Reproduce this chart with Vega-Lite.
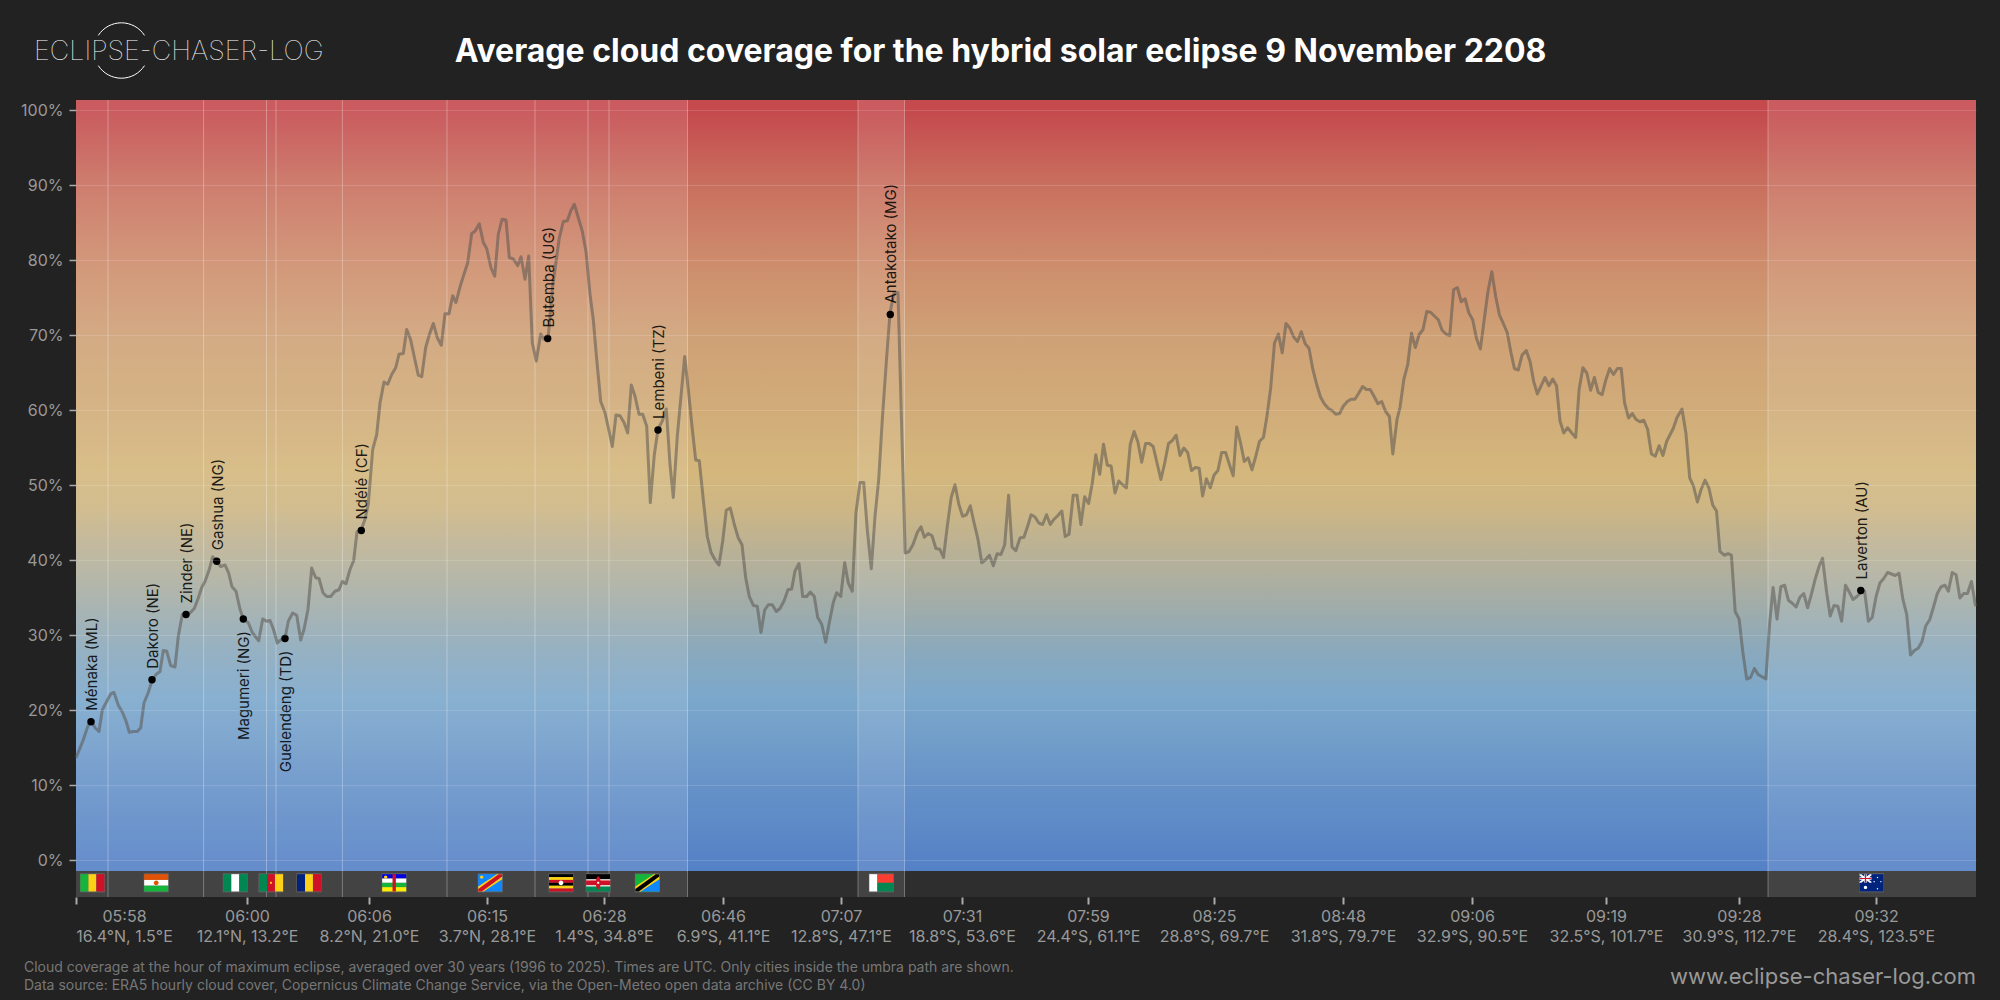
{
  "$schema": "https://vega.github.io/schema/vega-lite/v6.json",
  "width": 1900,
  "height": 797,
  "padding": {"left": 20, "top": 20, "right": 24, "bottom": 10},
  "background": "#222222",
  "config": {"view": {"stroke": null}},
  "resolve": {"axis": {"x": "independent", "y": "independent"}},
  "datasets": {
    "cover": [
      {"dist":0,"cc":13.7},{"dist":4,"cc":15},{"dist":7.3,"cc":16.1},{"dist":11.3,"cc":17.7},{"dist":14.7,"cc":18.8},{"dist":19,"cc":17.7},{"dist":23,"cc":17.2},{"dist":26.3,"cc":20.1},{"dist":30.7,"cc":21.2},{"dist":34.7,"cc":22.2},
      {"dist":38,"cc":22.4},{"dist":42.3,"cc":20.7},{"dist":46.3,"cc":19.8},{"dist":50,"cc":18.6},{"dist":53.3,"cc":17.1},{"dist":57.3,"cc":17.2},{"dist":61.3,"cc":17.2},{"dist":64.7,"cc":17.7},{"dist":68,"cc":21},{"dist":72.3,"cc":22.4},
      {"dist":76,"cc":24},{"dist":80,"cc":24.8},{"dist":84,"cc":25.2},{"dist":87.3,"cc":28},{"dist":90.7,"cc":27.9},{"dist":94.7,"cc":26},{"dist":99,"cc":25.8},{"dist":102.3,"cc":29.9},{"dist":106.3,"cc":32.8},{"dist":110.7,"cc":32.8},
      {"dist":114,"cc":33},{"dist":118.3,"cc":33.6},{"dist":122.3,"cc":35},{"dist":125.7,"cc":36.4},{"dist":129,"cc":37.2},{"dist":133.3,"cc":38.8},{"dist":136.7,"cc":40.5},{"dist":140.7,"cc":39.9},{"dist":144.7,"cc":39.2},{"dist":149,"cc":39.4},
      {"dist":152.7,"cc":38.3},{"dist":156,"cc":36.5},{"dist":160,"cc":35.9},{"dist":164,"cc":33.5},{"dist":167.3,"cc":32.2},{"dist":172.3,"cc":31.7},{"dist":176.3,"cc":30.4},{"dist":179.7,"cc":29.8},{"dist":182.7,"cc":29.3},{"dist":186.7,"cc":32.2},
      {"dist":190.7,"cc":31.9},{"dist":194,"cc":32},{"dist":197.3,"cc":30.9},{"dist":201.3,"cc":29},{"dist":205.7,"cc":29.5},{"dist":209,"cc":29.6},{"dist":212.3,"cc":31.9},{"dist":216.7,"cc":33},{"dist":220.7,"cc":32.7},{"dist":224.7,"cc":29.4},
      {"dist":228,"cc":30.8},{"dist":232,"cc":33.5},{"dist":235.7,"cc":39},{"dist":239.7,"cc":37.7},{"dist":243,"cc":37.6},{"dist":247,"cc":35.7},{"dist":250.7,"cc":35.2},{"dist":254.7,"cc":35.2},{"dist":259,"cc":35.9},{"dist":263,"cc":36.1},
      {"dist":266.3,"cc":37.2},{"dist":270,"cc":36.9},{"dist":274,"cc":38.8},{"dist":277.7,"cc":40},{"dist":281,"cc":43.8},{"dist":285,"cc":44},{"dist":289,"cc":45.5},{"dist":292.3,"cc":47.5},{"dist":296.7,"cc":54.8},{"dist":300.7,"cc":56.8},
      {"dist":304,"cc":61},{"dist":308,"cc":63.8},{"dist":311.7,"cc":63.5},{"dist":315.7,"cc":64.8},{"dist":319.7,"cc":65.7},{"dist":323,"cc":67.5},{"dist":327.3,"cc":67.6},{"dist":330.7,"cc":70.8},{"dist":334.5,"cc":69.5},{"dist":338.5,"cc":67},
      {"dist":342.3,"cc":64.7},{"dist":345.7,"cc":64.5},{"dist":349.7,"cc":68.4},{"dist":353.3,"cc":70.1},{"dist":357.3,"cc":71.6},{"dist":361.3,"cc":69.7},{"dist":365.3,"cc":68.7},{"dist":369,"cc":72.9},{"dist":373,"cc":72.9},{"dist":376.7,"cc":75.3},
      {"dist":380,"cc":74.4},{"dist":384.7,"cc":76.8},{"dist":391.7,"cc":79.7},{"dist":395.7,"cc":83.6},{"dist":399,"cc":83.9},{"dist":403.3,"cc":84.9},{"dist":407.3,"cc":82.4},{"dist":410.7,"cc":81.6},{"dist":415,"cc":79},{"dist":418.7,"cc":77.9},
      {"dist":422.3,"cc":83.5},{"dist":426,"cc":85.5},{"dist":430,"cc":85.4},{"dist":433.3,"cc":80.4},{"dist":437.3,"cc":80.2},{"dist":441.7,"cc":79.3},{"dist":445,"cc":80.5},{"dist":449,"cc":77.5},{"dist":452.7,"cc":80.6},{"dist":456.3,"cc":69},
      {"dist":460.3,"cc":66.6},{"dist":464.7,"cc":70.2},{"dist":468,"cc":69.5},{"dist":472.3,"cc":69.9},{"dist":476.7,"cc":76.6},{"dist":483.3,"cc":83},{"dist":487.3,"cc":85.2},{"dist":491.3,"cc":85.3},{"dist":494.7,"cc":86.6},{"dist":498.3,"cc":87.5},
      {"dist":502.3,"cc":85.7},{"dist":506.3,"cc":83.9},{"dist":510,"cc":81.2},{"dist":514,"cc":75.5},{"dist":517.3,"cc":72.1},{"dist":520.7,"cc":66.8},{"dist":524.7,"cc":61.2},{"dist":529,"cc":59.7},{"dist":532.7,"cc":57.5},{"dist":536.3,"cc":55.2},
      {"dist":540,"cc":59.4},{"dist":544,"cc":59.3},{"dist":548,"cc":58.4},{"dist":551.7,"cc":57},{"dist":555.3,"cc":63.4},{"dist":559,"cc":61.9},{"dist":563,"cc":59.5},{"dist":566.7,"cc":59.5},{"dist":570.7,"cc":57.9},{"dist":574.3,"cc":47.7},
      {"dist":578.3,"cc":54.1},{"dist":582,"cc":57.5},{"dist":586.3,"cc":58.6},{"dist":590.3,"cc":60.2},{"dist":594,"cc":52.8},{"dist":597.3,"cc":48.4},{"dist":601.3,"cc":56.6},{"dist":605,"cc":61.9},{"dist":608.7,"cc":67.2},{"dist":612.3,"cc":62.8},
      {"dist":616,"cc":57.9},{"dist":619.7,"cc":53.4},{"dist":623.3,"cc":53.3},{"dist":627.3,"cc":48.1},{"dist":631.3,"cc":43.2},{"dist":635,"cc":41.1},{"dist":639,"cc":40.1},{"dist":643,"cc":39.4},{"dist":646.7,"cc":42.6},{"dist":650.3,"cc":46.7},
      {"dist":654.3,"cc":47},{"dist":658.3,"cc":44.8},{"dist":662.3,"cc":43},{"dist":666,"cc":42.1},{"dist":669.7,"cc":37.7},{"dist":673.3,"cc":35.2},{"dist":677.3,"cc":34},{"dist":681.3,"cc":33.9},{"dist":685,"cc":30.4},{"dist":688.7,"cc":33.4},
      {"dist":692.3,"cc":34.1},{"dist":696.3,"cc":34.1},{"dist":700.3,"cc":33.2},{"dist":704,"cc":33.6},{"dist":708,"cc":34.6},{"dist":712,"cc":36.1},{"dist":715.7,"cc":36.2},{"dist":719,"cc":38.6},{"dist":723,"cc":39.6},{"dist":726.7,"cc":35.2},
      {"dist":730.7,"cc":35.2},{"dist":734.3,"cc":35.8},{"dist":738.3,"cc":35.2},{"dist":741.7,"cc":32.4},{"dist":745.7,"cc":31.5},{"dist":749.7,"cc":29.1},{"dist":753.3,"cc":31.7},{"dist":757.3,"cc":34.4},{"dist":760.7,"cc":35.7},{"dist":764.7,"cc":35.2},
      {"dist":768.7,"cc":39.7},{"dist":772.3,"cc":37},{"dist":776.3,"cc":35.9},{"dist":780,"cc":46.4},{"dist":784,"cc":50.4},{"dist":787.7,"cc":50.4},{"dist":791.3,"cc":44.1},{"dist":795.3,"cc":38.9},{"dist":799,"cc":45.9},{"dist":802.7,"cc":50.8},
      {"dist":806.3,"cc":58.8},{"dist":810.7,"cc":67.2},{"dist":814,"cc":73},{"dist":818,"cc":75.7},{"dist":822,"cc":75.7},{"dist":825,"cc":61},{"dist":829.2,"cc":41},{"dist":833,"cc":41.2},{"dist":836.9,"cc":42.1},{"dist":841.5,"cc":43.8},
      {"dist":845,"cc":44.5},{"dist":848.4,"cc":43.1},{"dist":852.2,"cc":43.6},{"dist":856,"cc":43.3},{"dist":859.9,"cc":41.6},{"dist":863.7,"cc":41.5},{"dist":867.5,"cc":40.4},{"dist":871.3,"cc":44.6},{"dist":875.2,"cc":48.4},{"dist":879,"cc":50.1},
      {"dist":882.8,"cc":47.5},{"dist":886.6,"cc":45.9},{"dist":890.5,"cc":46.1},{"dist":894.3,"cc":47.3},{"dist":898.1,"cc":45},{"dist":902,"cc":42.8},{"dist":905.8,"cc":39.7},{"dist":909.6,"cc":40.1},{"dist":913.4,"cc":40.7},{"dist":917.3,"cc":39.3},
      {"dist":921.1,"cc":40.9},{"dist":924.9,"cc":40.8},{"dist":928.7,"cc":42.1},{"dist":932.6,"cc":48.7},{"dist":936,"cc":41.8},{"dist":939.8,"cc":41.3},{"dist":944,"cc":43},{"dist":947.9,"cc":43.1},{"dist":951.7,"cc":44.6},{"dist":955.1,"cc":46.1},
      {"dist":959,"cc":45.8},{"dist":962.8,"cc":45},{"dist":966.6,"cc":44.8},{"dist":970.5,"cc":46.1},{"dist":974.3,"cc":44.8},{"dist":978.1,"cc":45.5},{"dist":981.9,"cc":46},{"dist":985.8,"cc":46.6},{"dist":989.2,"cc":43.2},{"dist":993,"cc":43.5},
      {"dist":997.2,"cc":48.7},{"dist":1001,"cc":48.7},{"dist":1004.9,"cc":44.8},{"dist":1008.7,"cc":48.5},{"dist":1012.6,"cc":47.6},{"dist":1016.4,"cc":50.4},{"dist":1019.8,"cc":54.1},{"dist":1023.7,"cc":51.5},{"dist":1027.5,"cc":55.5},{"dist":1031.3,"cc":52.7},
      {"dist":1035.1,"cc":52.6},{"dist":1039,"cc":49},{"dist":1042.8,"cc":50.6},{"dist":1046.6,"cc":50.1},{"dist":1050.4,"cc":49.7},{"dist":1054.3,"cc":55.5},{"dist":1058.1,"cc":57.2},{"dist":1061.9,"cc":55.8},{"dist":1065.7,"cc":53.1},{"dist":1069.6,"cc":55.6},
      {"dist":1073.4,"cc":55.6},{"dist":1077.2,"cc":55.2},{"dist":1081,"cc":53},{"dist":1084.9,"cc":50.8},{"dist":1088.7,"cc":53},{"dist":1092.5,"cc":55.6},{"dist":1096.4,"cc":56},{"dist":1100.2,"cc":56.7},{"dist":1104,"cc":54},{"dist":1107.8,"cc":55},
      {"dist":1111.7,"cc":54.4},{"dist":1115.5,"cc":52},{"dist":1119.3,"cc":52.4},{"dist":1123.2,"cc":52.3},{"dist":1126.6,"cc":48.6},{"dist":1130.4,"cc":50.9},{"dist":1134.3,"cc":49.7},{"dist":1138.1,"cc":51.4},{"dist":1141.9,"cc":52},{"dist":1145.7,"cc":54.4},
      {"dist":1149.6,"cc":54.4},{"dist":1153.4,"cc":52.8},{"dist":1157.2,"cc":51.3},{"dist":1160.7,"cc":57.8},{"dist":1164.5,"cc":55.7},{"dist":1168.3,"cc":53.2},{"dist":1172.1,"cc":53.7},{"dist":1176,"cc":52.1},{"dist":1179.8,"cc":53.9},{"dist":1183.6,"cc":55.9},
      {"dist":1187.4,"cc":56.4},{"dist":1190.9,"cc":59.2},{"dist":1194.7,"cc":63},{"dist":1198.5,"cc":69},{"dist":1202.4,"cc":70.2},{"dist":1206.2,"cc":67.7},{"dist":1210,"cc":71.6},{"dist":1213.8,"cc":71},{"dist":1217.7,"cc":69.8},{"dist":1221.5,"cc":69.2},
      {"dist":1225.3,"cc":70.5},{"dist":1229.2,"cc":68.9},{"dist":1233,"cc":68.3},{"dist":1236.8,"cc":65.5},{"dist":1240.6,"cc":63.5},{"dist":1244.5,"cc":61.8},{"dist":1248.3,"cc":60.9},{"dist":1252.1,"cc":60.3},{"dist":1256,"cc":60},{"dist":1259.8,"cc":59.5},
      {"dist":1263.6,"cc":59.6},{"dist":1267.4,"cc":60.6},{"dist":1271.3,"cc":61.2},{"dist":1275.1,"cc":61.5},{"dist":1278.9,"cc":61.5},{"dist":1282.7,"cc":62.3},{"dist":1286.6,"cc":63.2},{"dist":1290.4,"cc":62.8},{"dist":1294.2,"cc":62.8},{"dist":1298,"cc":61.9},
      {"dist":1301.9,"cc":60.9},{"dist":1305.7,"cc":61.2},{"dist":1309.5,"cc":59.9},{"dist":1313.4,"cc":59.2},{"dist":1316.8,"cc":54.2},{"dist":1321,"cc":58.8},{"dist":1324,"cc":60.4},{"dist":1327.8,"cc":64.1},{"dist":1331.7,"cc":66.1},{"dist":1335.5,"cc":70.3},
      {"dist":1339.3,"cc":68.4},{"dist":1343.1,"cc":70.1},{"dist":1347,"cc":70.8},{"dist":1350.8,"cc":73.2},{"dist":1354.6,"cc":73.1},{"dist":1358.4,"cc":72.6},{"dist":1362.3,"cc":72.1},{"dist":1366.1,"cc":70.7},{"dist":1369.9,"cc":70.2},{"dist":1373.8,"cc":70},
      {"dist":1377.6,"cc":76.1},{"dist":1381.4,"cc":76.4},{"dist":1385.2,"cc":74.5},{"dist":1389.1,"cc":74.9},{"dist":1392.9,"cc":73},{"dist":1396.7,"cc":72.1},{"dist":1400.5,"cc":69.6},{"dist":1404.4,"cc":68.2},{"dist":1408.2,"cc":72.1},{"dist":1412,"cc":75.9},
      {"dist":1415.8,"cc":78.5},{"dist":1419.7,"cc":75.2},{"dist":1423.5,"cc":72.7},{"dist":1427.3,"cc":71.6},{"dist":1431.2,"cc":70.4},{"dist":1435,"cc":67.7},{"dist":1438.4,"cc":65.6},{"dist":1442.3,"cc":65.4},{"dist":1446.1,"cc":67.4},{"dist":1450.3,"cc":68},
      {"dist":1454.1,"cc":66.5},{"dist":1457.6,"cc":63.9},{"dist":1461.4,"cc":62.2},{"dist":1465.2,"cc":63.3},{"dist":1469,"cc":64.4},{"dist":1472.9,"cc":63.3},{"dist":1476.7,"cc":64.2},{"dist":1480.5,"cc":63.3},{"dist":1484,"cc":58.6},{"dist":1487.8,"cc":57},
      {"dist":1491.6,"cc":57.7},{"dist":1495.8,"cc":57},{"dist":1499.7,"cc":56.4},{"dist":1503.1,"cc":62.8},{"dist":1506.9,"cc":65.7},{"dist":1510.8,"cc":65},{"dist":1514.6,"cc":62.7},{"dist":1518.4,"cc":64.4},{"dist":1522.2,"cc":62.4},{"dist":1526.1,"cc":62.1},
      {"dist":1529.9,"cc":64.1},{"dist":1533.7,"cc":65.6},{"dist":1537.5,"cc":64.8},{"dist":1541.4,"cc":65.6},{"dist":1545.2,"cc":65.6},{"dist":1548.6,"cc":61},{"dist":1552.5,"cc":59},{"dist":1556.3,"cc":59.6},{"dist":1560.1,"cc":58.8},{"dist":1563.9,"cc":58.5},
      {"dist":1567.8,"cc":58.7},{"dist":1571.6,"cc":57.5},{"dist":1575.4,"cc":54.2},{"dist":1579.3,"cc":53.9},{"dist":1583.1,"cc":55.3},{"dist":1586.9,"cc":54},{"dist":1590.7,"cc":55.9},{"dist":1597.2,"cc":57.6},{"dist":1601.1,"cc":59.1},{"dist":1606,"cc":60.2},
      {"dist":1609.9,"cc":57},{"dist":1613.7,"cc":51},{"dist":1617.5,"cc":49.9},{"dist":1621.4,"cc":47.8},{"dist":1625.2,"cc":49.5},{"dist":1629,"cc":50.7},{"dist":1632.8,"cc":49.7},{"dist":1636.7,"cc":47.4},{"dist":1640.5,"cc":46.6},{"dist":1643.9,"cc":41.2},
      {"dist":1648.2,"cc":40.7},{"dist":1652,"cc":40.9},{"dist":1655.4,"cc":40.7},{"dist":1659.2,"cc":33.2},{"dist":1663.1,"cc":32.2},{"dist":1666.9,"cc":27.7},{"dist":1670.7,"cc":24.2},{"dist":1674.5,"cc":24.4},{"dist":1678.4,"cc":25.6},{"dist":1682.2,"cc":24.8},
      {"dist":1686,"cc":24.5},{"dist":1689.9,"cc":24.2},{"dist":1693.7,"cc":31.7},{"dist":1697.1,"cc":36.4},{"dist":1701,"cc":32.2},{"dist":1704.8,"cc":36.5},{"dist":1708.6,"cc":36.7},{"dist":1712.4,"cc":34.7},{"dist":1716.3,"cc":34.3},{"dist":1720.1,"cc":33.8},
      {"dist":1723.9,"cc":35.1},{"dist":1727.7,"cc":35.6},{"dist":1731.6,"cc":33.7},{"dist":1735.4,"cc":35.5},{"dist":1739.2,"cc":37.5},{"dist":1743,"cc":39.2},{"dist":1746.5,"cc":40.3},{"dist":1750.7,"cc":35.7},{"dist":1754.2,"cc":32.6},{"dist":1758,"cc":34},
      {"dist":1761.8,"cc":33.9},{"dist":1765.6,"cc":31.9},{"dist":1769.5,"cc":36.7},{"dist":1773.3,"cc":35.8},{"dist":1777.1,"cc":34.8},{"dist":1780.9,"cc":35.2},{"dist":1784.8,"cc":35.7},{"dist":1788.6,"cc":35.9},{"dist":1792.4,"cc":31.9},{"dist":1796.2,"cc":32.4},
      {"dist":1800.1,"cc":35.2},{"dist":1803.9,"cc":37},{"dist":1807.7,"cc":37.6},{"dist":1811.6,"cc":38.4},{"dist":1815.4,"cc":38.2},{"dist":1819.2,"cc":38},{"dist":1823,"cc":38.3},{"dist":1826.9,"cc":34.8},{"dist":1830.7,"cc":32.8},{"dist":1834.5,"cc":27.4},
      {"dist":1838.3,"cc":28},{"dist":1842.2,"cc":28.3},{"dist":1846,"cc":29.2},{"dist":1849.8,"cc":31.3},{"dist":1853.7,"cc":32.1},{"dist":1857.5,"cc":33.8},{"dist":1861.3,"cc":35.6},{"dist":1865.1,"cc":36.5},{"dist":1869,"cc":36.7},{"dist":1872.4,"cc":35.9},
      {"dist":1876.2,"cc":38.4},{"dist":1880.1,"cc":38.1},{"dist":1883.9,"cc":35},{"dist":1887.7,"cc":35.6},{"dist":1891.5,"cc":35.6},{"dist":1895.4,"cc":37.2},{"dist":1899.6,"cc":33.9}
    ],
    "cities": [
      {"city":"Ménaka (ML)","dist":15,"cc":18.5,"side":"above"},
      {"city":"Dakoro (NE)","dist":76,"cc":24.1,"side":"above"},
      {"city":"Zinder (NE)","dist":110,"cc":32.8,"side":"above"},
      {"city":"Gashua (NG)","dist":140.7,"cc":39.9,"side":"above"},
      {"city":"Magumeri (NG)","dist":167.3,"cc":32.2,"side":"below"},
      {"city":"Guelendeng (TD)","dist":209,"cc":29.6,"side":"below"},
      {"city":"Ndélé (CF)","dist":285.3,"cc":44,"side":"above"},
      {"city":"Butemba (UG)","dist":471.7,"cc":69.6,"side":"above"},
      {"city":"Lembeni (TZ)","dist":582,"cc":57.4,"side":"above"},
      {"city":"Antakotako (MG)","dist":814.3,"cc":72.8,"side":"above"},
      {"city":"Laverton (AU)","dist":1784.8,"cc":36,"side":"above"}
    ],
    "land": [
      {"start":0,"end":611.5},
      {"start":782,"end":828.5},
      {"start":1692,"end":1900}
    ],
    "borders": [
      {"dist":32},{"dist":127.6},{"dist":190.5},{"dist":200},{"dist":266.4},{"dist":371},{"dist":459},{"dist":512},{"dist":533},{"dist":611.5},{"dist":782},{"dist":828.5},{"dist":1692}
    ],
    "flags": [
      {"flag":"ML","dist":16.4,"cc":-2.98,"part":"frame","tint":"frame"},{"flag":"ML","dist":16.4,"cc":-2.98,"part":"v1","tint":"green"},{"flag":"ML","dist":16.4,"cc":-2.98,"part":"v2","tint":"yellow"},{"flag":"ML","dist":16.4,"cc":-2.98,"part":"v3","tint":"red"},
      {"flag":"NE","dist":80.2,"cc":-2.98,"part":"frame","tint":"frame"},{"flag":"NE","dist":80.2,"cc":-2.98,"part":"h1","tint":"orange"},{"flag":"NE","dist":80.2,"cc":-2.98,"part":"h2","tint":"white"},{"flag":"NE","dist":80.2,"cc":-2.98,"part":"h3","tint":"green"},{"flag":"NE","dist":80.2,"cc":-2.98,"part":"dot","tint":"orange"},
      {"flag":"NG","dist":159.3,"cc":-2.98,"part":"frame","tint":"frame"},{"flag":"NG","dist":159.3,"cc":-2.98,"part":"v1","tint":"darkgreen"},{"flag":"NG","dist":159.3,"cc":-2.98,"part":"v2","tint":"white"},{"flag":"NG","dist":159.3,"cc":-2.98,"part":"v3","tint":"darkgreen"},
      {"flag":"CM","dist":195,"cc":-2.98,"part":"frame","tint":"frame"},{"flag":"CM","dist":195,"cc":-2.98,"part":"v1","tint":"darkgreen"},{"flag":"CM","dist":195,"cc":-2.98,"part":"v2","tint":"red"},{"flag":"CM","dist":195,"cc":-2.98,"part":"v3","tint":"yellow"},{"flag":"CM","dist":195,"cc":-2.98,"part":"pip","tint":"yellow"},
      {"flag":"TD","dist":233,"cc":-2.98,"part":"frame","tint":"frame"},{"flag":"TD","dist":233,"cc":-2.98,"part":"v1","tint":"navy"},{"flag":"TD","dist":233,"cc":-2.98,"part":"v2","tint":"yellow"},{"flag":"TD","dist":233,"cc":-2.98,"part":"v3","tint":"red"},
      {"flag":"CF","dist":318.2,"cc":-2.98,"part":"frame","tint":"frame"},{"flag":"CF","dist":318.2,"cc":-2.98,"part":"q1","tint":"blue"},{"flag":"CF","dist":318.2,"cc":-2.98,"part":"q2","tint":"white"},{"flag":"CF","dist":318.2,"cc":-2.98,"part":"q3","tint":"green"},{"flag":"CF","dist":318.2,"cc":-2.98,"part":"q4","tint":"lemon"},{"flag":"CF","dist":318.2,"cc":-2.98,"part":"vbar","tint":"red"},{"flag":"CF","dist":318.2,"cc":-2.98,"part":"corner","tint":"yellow"},
      {"flag":"CD","dist":414.2,"cc":-2.98,"part":"frame","tint":"frame"},{"flag":"CD","dist":414.2,"cc":-2.98,"part":"full","tint":"sky"},{"flag":"CD","dist":414.2,"cc":-2.98,"part":"diagwide","tint":"yellow"},{"flag":"CD","dist":414.2,"cc":-2.98,"part":"diagthin","tint":"red"},{"flag":"CD","dist":414.2,"cc":-2.98,"part":"corner","tint":"yellow"},
      {"flag":"UG","dist":485,"cc":-2.98,"part":"frame","tint":"frame"},{"flag":"UG","dist":485,"cc":-2.98,"part":"s1","tint":"black"},{"flag":"UG","dist":485,"cc":-2.98,"part":"s2","tint":"yellow"},{"flag":"UG","dist":485,"cc":-2.98,"part":"s3","tint":"red"},{"flag":"UG","dist":485,"cc":-2.98,"part":"s4","tint":"black"},{"flag":"UG","dist":485,"cc":-2.98,"part":"s5","tint":"yellow"},{"flag":"UG","dist":485,"cc":-2.98,"part":"s6","tint":"red"},{"flag":"UG","dist":485,"cc":-2.98,"part":"dot","tint":"white"},
      {"flag":"KE","dist":522.2,"cc":-2.98,"part":"frame","tint":"frame"},{"flag":"KE","dist":522.2,"cc":-2.98,"part":"h1","tint":"black"},{"flag":"KE","dist":522.2,"cc":-2.98,"part":"h2","tint":"red"},{"flag":"KE","dist":522.2,"cc":-2.98,"part":"h3","tint":"darkgreen"},{"flag":"KE","dist":522.2,"cc":-2.98,"part":"hl1","tint":"white"},{"flag":"KE","dist":522.2,"cc":-2.98,"part":"hl2","tint":"white"},{"flag":"KE","dist":522.2,"cc":-2.98,"part":"oval","tint":"red"},{"flag":"KE","dist":522.2,"cc":-2.98,"part":"pip","tint":"white"},
      {"flag":"TZ","dist":571.3,"cc":-2.98,"part":"frame","tint":"frame"},{"flag":"TZ","dist":571.3,"cc":-2.98,"part":"full","tint":"green"},{"flag":"TZ","dist":571.3,"cc":-2.98,"part":"tri","tint":"sky"},{"flag":"TZ","dist":571.3,"cc":-2.98,"part":"diagwide","tint":"yellow"},{"flag":"TZ","dist":571.3,"cc":-2.98,"part":"diagthin","tint":"black"},
      {"flag":"MG","dist":805.3,"cc":-2.98,"part":"frame","tint":"frame"},{"flag":"MG","dist":805.3,"cc":-2.98,"part":"v1","tint":"white"},{"flag":"MG","dist":805.3,"cc":-2.98,"part":"rt","tint":"coral"},{"flag":"MG","dist":805.3,"cc":-2.98,"part":"rb","tint":"darkgreen"},
      {"flag":"AU","dist":1795.5,"cc":-2.98,"part":"frame","tint":"frame"},{"flag":"AU","dist":1795.5,"cc":-2.98,"part":"full","tint":"navy"},{"flag":"AU","dist":1795.5,"cc":-2.98,"part":"cdiag","tint":"white"},{"flag":"AU","dist":1795.5,"cc":-2.98,"part":"crossw","tint":"white"},{"flag":"AU","dist":1795.5,"cc":-2.98,"part":"crossr","tint":"red"},{"flag":"AU","dist":1795.5,"cc":-2.98,"part":"southern","tint":"white"}
    ],
    "notes": [
      {"note":"Cloud coverage at the hour of maximum eclipse, averaged over 30 years (1996 to 2025). Times are UTC. Only cities inside the umbra path are shown.","dist":-52,"cc":-14.4},
      {"note":"Data source: ERA5 hourly cloud cover, Copernicus Climate Change Service, via the Open-Meteo open data archive (CC BY 4.0)","dist":-52,"cc":-16.8}
    ]
  },
  "data": {"name": "cover"},
  "layer": [
    {
      "data": {"values": [{"from": 101.4, "to": -1.4}]},
      "mark": {
        "type": "rect",
        "color": {
          "gradient": "linear", "x1": 0, "y1": 0, "x2": 0, "y2": 1,
          "stops": [
            {"offset": 0.015, "color": "#c44a4d"},
            {"offset": 0.112, "color": "#c9705f"},
            {"offset": 0.209, "color": "#cd8c6c"},
            {"offset": 0.306, "color": "#cfa176"},
            {"offset": 0.403, "color": "#d1ac79"},
            {"offset": 0.481, "color": "#d4b77c"},
            {"offset": 0.530, "color": "#cdb684"},
            {"offset": 0.578, "color": "#bcb294"},
            {"offset": 0.646, "color": "#a5ada6"},
            {"offset": 0.714, "color": "#8aa9bc"},
            {"offset": 0.773, "color": "#7ca8cb"},
            {"offset": 0.889, "color": "#6692c8"},
            {"offset": 1, "color": "#5480c6"}
          ]
        }
      },
      "encoding": {
        "y": {"field": "from", "type": "quantitative", "scale": {"domain": [-4.87, 101.4], "nice": false, "zero": false}, "axis": null},
        "y2": {"field": "to"}
      }
    },
    {
      "data": {"values": [{"from": -1.4, "to": -4.87}]},
      "mark": {"type": "rect", "color": "#2e2e2e"},
      "encoding": {
        "y": {"field": "from", "type": "quantitative", "scale": {"domain": [-4.87, 101.4], "nice": false, "zero": false}, "axis": null},
        "y2": {"field": "to"}
      }
    },
    {
      "data": {"name": "land"},
      "mark": {"type": "rect", "color": "#ffffff", "opacity": 0.1},
      "encoding": {
        "x": {"field": "start", "type": "quantitative", "scale": {"domain": [0, 1900], "nice": false, "zero": false}, "axis": null},
        "x2": {"field": "end"}
      }
    },
    {
      "data": {"name": "borders"},
      "mark": {"type": "rule", "color": "#ffffff", "opacity": 0.3, "strokeWidth": 1},
      "encoding": {
        "x": {"field": "dist", "type": "quantitative", "scale": {"domain": [0, 1900], "nice": false, "zero": false}, "axis": null}
      }
    },
    {
      "mark": {"type": "line", "color": "#5a5650", "opacity": 0.55, "strokeWidth": 3, "strokeJoin": "round"},
      "encoding": {
        "x": {
          "field": "dist", "type": "quantitative",
          "scale": {"domain": [0, 1900], "nice": false, "zero": false},
          "axis": {
            "title": null, "grid": false, "domain": false,
            "values": [0,171,293,411,528,647,765,886,1012,1138,1267,1396,1530,1663,1800],
            "tickColor": "#aaaaaa", "tickSize": 7, "tickWidth": 2,
            "labelColor": "#999999", "labelFont": "Inter", "labelFontSize": 16, "labelLineHeight": 20.5,
            "labelPadding": 4, "labelOverlap": false, "labelFlush": false, "labelBound": false,
            "labelOffset": {"condition": {"test": "datum.value === 0", "value": 48}, "value": 0},
            "labelExpr": "{'0':['05:58','16.4°N, 1.5°E'],'171':['06:00','12.1°N, 13.2°E'],'293':['06:06','8.2°N, 21.0°E'],'411':['06:15','3.7°N, 28.1°E'],'528':['06:28','1.4°S, 34.8°E'],'647':['06:46','6.9°S, 41.1°E'],'765':['07:07','12.8°S, 47.1°E'],'886':['07:31','18.8°S, 53.6°E'],'1012':['07:59','24.4°S, 61.1°E'],'1138':['08:25','28.8°S, 69.7°E'],'1267':['08:48','31.8°S, 79.7°E'],'1396':['09:06','32.9°S, 90.5°E'],'1530':['09:19','32.5°S, 101.7°E'],'1663':['09:28','30.9°S, 112.7°E'],'1800':['09:32','28.4°S, 123.5°E']}[datum.value]"
          }
        },
        "y": {
          "field": "cc", "type": "quantitative",
          "scale": {"domain": [-4.87, 101.4], "nice": false, "zero": false},
          "axis": {
            "title": null, "domain": false, "grid": true, "zindex": 1,
            "values": [0,10,20,30,40,50,60,70,80,90,100],
            "gridColor": "#ffffff", "gridOpacity": 0.14, "gridWidth": 1,
            "tickColor": "#aaaaaa", "tickSize": 7, "tickWidth": 1.5,
            "labelColor": "#999999", "labelFont": "Inter", "labelFontSize": 16, "labelPadding": 6,
            "labelExpr": "datum.value + '%'"
          }
        }
      }
    },
    {
      "data": {"name": "cities"},
      "mark": {"type": "point", "filled": true, "color": "#000000", "opacity": 1, "size": 55},
      "encoding": {
        "x": {"field": "dist", "type": "quantitative", "scale": {"domain": [0, 1900], "nice": false, "zero": false}, "axis": null},
        "y": {"field": "cc", "type": "quantitative", "scale": {"domain": [-4.87, 101.4], "nice": false, "zero": false}, "axis": null}
      }
    },
    {
      "data": {"name": "cities"},
      "mark": {
        "type": "text", "font": "Inter", "fontSize": 15, "color": "#000000", "opacity": 0.85, "angle": 270, "baseline": "middle",
        "align": {"expr": "datum.side === 'below' ? 'right' : 'left'"},
        "dx": {"expr": "datum.side === 'below' ? -12 : 11"},
        "dy": 1
      },
      "encoding": {
        "x": {"field": "dist", "type": "quantitative", "scale": {"domain": [0, 1900], "nice": false, "zero": false}, "axis": null},
        "y": {"field": "cc", "type": "quantitative", "scale": {"domain": [-4.87, 101.4], "nice": false, "zero": false}, "axis": null},
        "text": {"field": "city"}
      }
    },
    {
      "data": {"name": "flags"},
      "mark": {"type": "point", "filled": true, "size": 576, "opacity": 1, "strokeWidth": 0},
      "encoding": {
        "x": {"field": "dist", "type": "quantitative", "scale": {"domain": [0, 1900], "nice": false, "zero": false}, "axis": null},
        "y": {"field": "cc", "type": "quantitative", "scale": {"domain": [-4.87, 101.4], "nice": false, "zero": false}, "axis": null},
        "shape": {
          "field": "part", "type": "nominal", "legend": null,
          "scale": {
            "domain": ["frame","full","v1","v2","v3","h1","h2","h3","q1","q2","q3","q4","s1","s2","s3","s4","s5","s6","hl1","hl2","vbar","dot","pip","corner","oval","diagwide","diagthin","tri","rt","rb","cdiag","crossw","crossr","southern"],
            "range": [
              "M -1.04 -0.79 H 1.04 V 0.79 H -1.04 Z",
              "M -1 -0.72 H 1 V 0.72 H -1 Z",
              "M -1 -0.72 H -0.33 V 0.72 H -1 Z",
              "M -0.33 -0.72 H 0.33 V 0.72 H -0.33 Z",
              "M 0.33 -0.72 H 1 V 0.72 H 0.33 Z",
              "M -1 -0.72 H 1 V -0.24 H -1 Z",
              "M -1 -0.24 H 1 V 0.24 H -1 Z",
              "M -1 0.24 H 1 V 0.72 H -1 Z",
              "M -1 -0.72 H 1 V -0.36 H -1 Z",
              "M -1 -0.36 H 1 V 0 H -1 Z",
              "M -1 0 H 1 V 0.36 H -1 Z",
              "M -1 0.36 H 1 V 0.72 H -1 Z",
              "M -1 -0.72 H 1 V -0.48 H -1 Z",
              "M -1 -0.48 H 1 V -0.24 H -1 Z",
              "M -1 -0.24 H 1 V 0 H -1 Z",
              "M -1 0 H 1 V 0.24 H -1 Z",
              "M -1 0.24 H 1 V 0.48 H -1 Z",
              "M -1 0.48 H 1 V 0.72 H -1 Z",
              "M -1 -0.3 H 1 V -0.2 H -1 Z",
              "M -1 0.2 H 1 V 0.3 H -1 Z",
              "M -0.14 -0.72 H 0.14 V 0.72 H -0.14 Z",
              "M -0.2 0 A 0.2 0.2 0 1 0 0.2 0 A 0.2 0.2 0 1 0 -0.2 0 Z",
              "M -0.1 0 A 0.1 0.1 0 1 0 0.1 0 A 0.1 0.1 0 1 0 -0.1 0 Z",
              "M -0.85 -0.48 A 0.14 0.14 0 1 0 -0.57 -0.48 A 0.14 0.14 0 1 0 -0.85 -0.48 Z",
              "M -0.2 0 A 0.2 0.55 0 1 0 0.2 0 A 0.2 0.55 0 1 0 -0.2 0 Z",
              "M -1 0.72 L -1 0.3 L 0.55 -0.72 L 1 -0.72 L 1 -0.3 L -0.55 0.72 Z",
              "M -1 0.72 L -1 0.52 L 0.7 -0.72 L 1 -0.72 L 1 -0.52 L -0.7 0.72 Z",
              "M 1 -0.72 V 0.72 H -1 Z",
              "M -0.33 -0.72 H 1 V 0 H -0.33 Z",
              "M -0.33 0 H 1 V 0.72 H -0.33 Z",
              "M -1 -0.72 L -0.85 -0.72 L 0 -0.1 L 0 0 L -0.15 0 L -1 -0.62 Z M 0 -0.72 L 0 -0.62 L -0.85 0 L -1 0 L -1 -0.1 L -0.15 -0.72 Z",
              "M -0.6 -0.72 H -0.4 V -0.46 H 0 V -0.26 H -0.4 V 0 H -0.6 V -0.26 H -1 V -0.46 H -0.6 Z",
              "M -0.55 -0.72 H -0.45 V -0.41 H 0 V -0.31 H -0.45 V 0 H -0.55 V -0.31 H -1 V -0.41 H -0.55 Z",
              "M -0.64 0.38 A 0.14 0.14 0 1 0 -0.36 0.38 A 0.14 0.14 0 1 0 -0.64 0.38 Z M 0.44 -0.45 A 0.06 0.06 0 1 0 0.56 -0.45 A 0.06 0.06 0 1 0 0.44 -0.45 Z M 0.16 -0.1 A 0.06 0.06 0 1 0 0.28 -0.1 A 0.06 0.06 0 1 0 0.16 -0.1 Z M 0.72 -0.1 A 0.06 0.06 0 1 0 0.84 -0.1 A 0.06 0.06 0 1 0 0.72 -0.1 Z M 0.44 0.5 A 0.06 0.06 0 1 0 0.56 0.5 A 0.06 0.06 0 1 0 0.44 0.5 Z"
            ]
          }
        },
        "color": {
          "field": "tint", "type": "nominal", "legend": null,
          "scale": {
            "domain": ["frame","green","darkgreen","yellow","lemon","red","coral","orange","white","black","navy","blue","sky"],
            "range": ["#666666","#14b53a","#008751","#fcd116","#ffee00","#ce1126","#fc3d32","#e05206","#ffffff","#000000","#00247d","#0000e0","#0f87ff"]
          }
        }
      }
    },
    {
      "data": {"values": [{"dist": 45.4, "cc": 108}]},
      "mark": {"type": "point", "filled": false, "opacity": 1, "color": "#ffffff", "strokeWidth": 1, "size": 3025, "shape": "M -0.84 -0.55 A 1 1 0 0 1 0.84 -0.55 M -0.84 0.55 A 1 1 0 0 0 0.84 0.55"},
      "encoding": {
        "x": {"field": "dist", "type": "quantitative", "scale": {"domain": [0, 1900], "nice": false, "zero": false}, "axis": null},
        "y": {"field": "cc", "type": "quantitative", "scale": {"domain": [-4.87, 101.4], "nice": false, "zero": false}, "axis": null}
      }
    },
    {
      "data": {"values": [{"label": "ECLIPSE-CHASER-LOG", "dist": -42, "cc": 107.8}]},
      "mark": {"type": "text", "font": "Inter", "fontSize": 27, "fontWeight": 100, "color": "#ffffff", "align": "left", "baseline": "middle"},
      "encoding": {
        "x": {"field": "dist", "type": "quantitative", "scale": {"domain": [0, 1900], "nice": false, "zero": false}, "axis": null},
        "y": {"field": "cc", "type": "quantitative", "scale": {"domain": [-4.87, 101.4], "nice": false, "zero": false}, "axis": null},
        "text": {"field": "label"}
      }
    },
    {
      "data": {"values": [{"label": "Average cloud coverage for the hybrid solar eclipse 9 November 2208", "dist": 924.6, "cc": 107.8}]},
      "mark": {"type": "text", "font": "Inter", "fontSize": 32, "fontWeight": 700, "color": "#ffffff", "align": "center", "baseline": "middle"},
      "encoding": {
        "x": {"field": "dist", "type": "quantitative", "scale": {"domain": [0, 1900], "nice": false, "zero": false}, "axis": null},
        "y": {"field": "cc", "type": "quantitative", "scale": {"domain": [-4.87, 101.4], "nice": false, "zero": false}, "axis": null},
        "text": {"field": "label"}
      }
    },
    {
      "data": {"name": "notes"},
      "mark": {"type": "text", "font": "Inter", "fontSize": 14, "color": "#777777", "align": "left", "baseline": "middle"},
      "encoding": {
        "x": {"field": "dist", "type": "quantitative", "scale": {"domain": [0, 1900], "nice": false, "zero": false}, "axis": null},
        "y": {"field": "cc", "type": "quantitative", "scale": {"domain": [-4.87, 101.4], "nice": false, "zero": false}, "axis": null},
        "text": {"field": "note"}
      }
    },
    {
      "data": {"values": [{"label": "www.eclipse-chaser-log.com", "dist": 1900, "cc": -15.55}]},
      "mark": {"type": "text", "font": "Inter", "fontSize": 22, "color": "#999999", "align": "right", "baseline": "middle"},
      "encoding": {
        "x": {"field": "dist", "type": "quantitative", "scale": {"domain": [0, 1900], "nice": false, "zero": false}, "axis": null},
        "y": {"field": "cc", "type": "quantitative", "scale": {"domain": [-4.87, 101.4], "nice": false, "zero": false}, "axis": null},
        "text": {"field": "label"}
      }
    }
  ]
}
